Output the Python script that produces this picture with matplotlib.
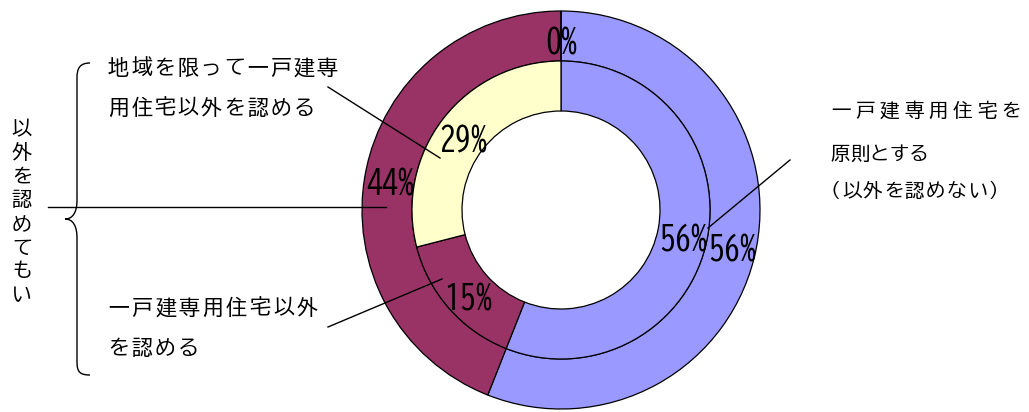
import math

import matplotlib
matplotlib.use("Agg")
import matplotlib.pyplot as plt
from matplotlib.path import Path
from matplotlib.patches import PathPatch

W, H = 1029, 412

# category order runs clockwise from 12 o'clock
outer_labels = ["原則", "以外を認めてもいい", "地域を限って"]
outer_values = [56, 44, 0]
inner_labels = ["原則", "一戸建専用住宅以外を認める", "地域を限って"]
inner_values = [56, 15, 29]

outer_colors = ["#9999FF", "#993366", "#FFFFCC"]
inner_colors = ["#9999FF", "#993366", "#FFFFCC"]

JP = ["BIZ UDGothic", "Noto Sans CJK JP", "DejaVu Sans"]
NUM = ["BIZ UDGothic", "DejaVu Sans"]

fig = plt.figure(figsize=(W / 100, H / 100), dpi=100)
ax = fig.add_axes([0, 0, 1, 1])

cx, cy = 561, H - 210
r_out, r_mid, r_in = 199, 149, 99
wedge = dict(edgecolor="black", linewidth=0.9)

ax.pie(outer_values, radius=r_out, center=(cx, cy), startangle=90,
       counterclock=False, colors=outer_colors,
       wedgeprops=dict(width=r_out - r_mid, **wedge))
ax.pie(inner_values, radius=r_mid, center=(cx, cy), startangle=90,
       counterclock=False, colors=inner_colors,
       wedgeprops=dict(width=r_mid - r_in, **wedge))


def ring_labels(values, r):
    total = sum(values)
    cum = 0
    for v in values:
        theta = math.radians(360 * (cum + v / 2) / total)
        x = cx + r * math.sin(theta)
        y = cy + r * math.cos(theta) - 6
        ax.text(x, y, f"{round(100 * v / total)}%", ha="center", va="center",
                fontsize=23, family=NUM, color="black")
        cum += v


ring_labels(outer_values, (r_out + r_mid) / 2)
ring_labels(inner_values, (r_mid + r_in) / 2)


def spaced(x, y, s, pitch, size=15):
    # lay out characters on a fixed pitch, x is the left edge, y from the top
    em = size / 0.72
    for i, ch in enumerate(s):
        ax.text(x + em / 2 + i * pitch, H - y, ch, ha="center", va="center",
                fontsize=size, family=JP, color="black")


def vertical(x, y, s, pitch, size=14.5):
    for i, ch in enumerate(s):
        ax.text(x, H - (y + i * pitch), ch, ha="center", va="center",
                fontsize=size, family=JP, color="black")


spaced(108, 67, "地域を限って一戸建専", 23.2)
spaced(108, 107, "用住宅以外を認める", 23.2)
spaced(108, 307, "一戸建専用住宅以外", 23.6)
spaced(108, 347, "を認める", 23.2)

spaced(831, 110, "一戸建専用住宅を", 24.4, 14)
spaced(831, 153, "原則とする", 19.4, 14)
spaced(821, 190, "（以外を認めない）", 21, 14)

vertical(22, 128, "以外を認めてもい", 23.6)

leaders = [((328, 87), (440, 158)),
           ((48, 207), (386, 207)),
           ((328, 327), (442, 279)),
           ((708, 228), (790, 160))]
for (x0, y0), (x1, y1) in leaders:
    ax.plot([x0, x1], [H - y0, H - y1], color="black", linewidth=1.0)

# curly brace grouping the two "allow" answers
pts = [(90, 63), (80, 63), (77, 68), (77, 78),
       (77, 200),
       (77, 212), (73, 219), (65, 219),
       (73, 219), (77, 226), (77, 238),
       (77, 362),
       (77, 372), (80, 375), (90, 375)]
codes = [Path.MOVETO, Path.CURVE4, Path.CURVE4, Path.CURVE4,
         Path.LINETO,
         Path.CURVE4, Path.CURVE4, Path.CURVE4,
         Path.CURVE4, Path.CURVE4, Path.CURVE4,
         Path.LINETO,
         Path.CURVE4, Path.CURVE4, Path.CURVE4]
brace = Path([(x, H - y) for x, y in pts], codes)
ax.add_patch(PathPatch(brace, facecolor="none", edgecolor="black", linewidth=1.0))

ax.set_xlim(0, W)
ax.set_ylim(0, H)
ax.set_aspect("equal")
ax.axis("off")

fig.savefig("out.png", dpi=100)
